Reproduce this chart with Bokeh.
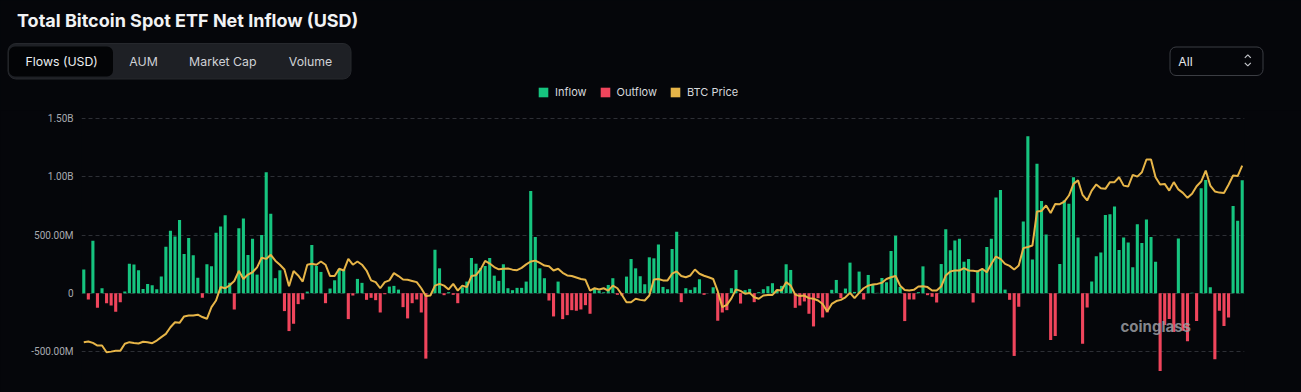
from bokeh.plotting import figure
from bokeh.models import Range1d, FixedTicker, Legend, LegendItem, ColumnDataSource, Label
from bokeh.layouts import column
from bokeh.embed import file_html
from bokeh.resources import INLINE
from bokeh.core.properties import value

# ---------------- data ----------------
# daily net flow, USD millions
flows_musd = [
    203, -54, 451, -126, 43, -86, -106, -160, -77, 14,
    254, 246, 197, 37, 80, 69, 34, 143, 400, 537,
    489, 631, 337, 474, 326, 134, -40, 249, 231, 520,
    574, 671, 89, -140, 560, 643, 329, 469, 160, 500,
    1040, 683,
    129, 197, -154, -326, -263, -94, -54, 14, 414, 234,
    183, -86, 40, 111, 209, 203, -223, -20, 123, 89,
    -57, -40, -60, -166, -9, 57, 63, 31, -120, -217,
    -86, -54, -166, -563, 0, 374, 214, -17, 9, -14,
    -86, 51, 100, 303, 254, 217, 234, 303,
    151, 106, 249, 43, 26, 46, 46, 100, 880, 483,
    214, 129, -63, -200, 100, -223, -189, -146, -151, -140,
    -103, -177, 43, 23, 8, 71, 129, -14, -20, 143,
    294, 214, 146, 77, 309, 300, 420, 54, 34, 380,
    529, -77, 43, 29, 51, 120,
    -14, 0, 51, -237, -166, -146, 43, 200, -89, 26,
    37, -77, 9, 34, 60, 86, 29, 63, 249, 200,
    -126, -106, -71, -177, -286, -43, -209, -166, 29, 114,
    -43, 40, 263, 11, 186, -54, 157, 71, 3, 131,
    94, 363, 494, 54, -240, -54,
    -54, 9, 231, -17, -31, -80, 251, 551, 369, 454,
    469, 271, 294, -80, 197, 203, 397, 469, 823, 889,
    31, -57, -540, -117, 617, 1351, 289, 1114, 794, 506,
    -403, -369, 251, 800, 769, 997, 480, -434, -123,
    100, 317, 351, 674, 680, 746, 371, 480, 437, 223,
    594, 431, 634, 483, 271, -669, -274, -223, -334, 471,
    -323, -414, 3, -240, 903, 974, 51, -569, -151, -283,
    -209, 751, 623, 971,
]

# BTC price, USD
btc_price = [
    42950, 43200, 42700, 41800, 41800, 39500, 39700, 39970, 39970, 42400,
    42950, 42700, 42500, 43100, 42950, 42600, 43500, 44700, 45800, 48100,
    49800, 49600, 51800, 52100, 52100, 52400, 51600, 51000, 55000, 57300,
    61900, 61500, 62500, 64000, 67500, 64700, 66200, 67000, 68700, 72000,
    71600, 73000,
    71000, 69600, 67950, 62200, 67400, 65900, 63800, 69600, 69900, 69600,
    70700, 69600, 65700, 65700, 68200, 67600, 71600, 69600, 70700, 69600,
    67600, 64200, 63600, 61500, 63600, 64200, 66700, 65700, 64500, 64400,
    64000, 63600, 61500, 58800, 59000, 62400, 63000, 62400, 61100, 63000,
    60700, 62400, 61900, 65700, 66000, 68000, 70900, 70000,
    68800, 68000, 68200, 68300, 67900, 67700, 68500, 69700, 70700, 71000,
    70200, 69300, 69100, 67600, 68200, 66800, 65900, 65700, 65200, 64700,
    64400, 60700, 61500, 61100, 61500, 60700, 62400, 61500, 59200, 56700,
    56700, 57900, 57500, 57300, 59000, 64500, 64700, 64200, 64200, 66500,
    67300, 65700, 65300, 65900, 67950, 66500,
    65800, 65300, 64700, 60500, 55000, 55800, 58000, 61100, 60600, 59600,
    59900, 58400, 57900, 59000, 59200, 59200, 60900, 60700, 63600, 62400,
    59300, 58800, 59000, 58100, 57900, 57300, 56100, 53500, 56100, 57100,
    57500, 58400, 59900, 58100, 59900, 61500, 62400, 62800, 63000, 63400,
    64700, 65300, 65700, 62400, 60900, 60700,
    60950, 62100, 62200, 61900, 60700, 60700, 62100, 65900, 67300, 67600,
    67600, 68400, 67600, 67500, 67300, 68200, 67000, 69900, 72400, 71600,
    69900, 69200, 67950, 69300, 75300, 75700, 76200, 87900, 88100, 90000,
    87400, 90500, 90400, 91300, 93400, 97400, 98600, 93600, 91700,
    95100, 97200, 95900, 95700, 98000, 98000, 99700, 96800, 96500, 100500,
    99900, 101400, 105800, 105800, 99700, 97200, 97400, 95100, 98000, 95500,
    94300, 92600, 94000, 96600, 98200, 102000, 96800, 94800, 94400, 94300,
    97100, 100300, 100100, 103700,
]

y_ticks = [-500e6, 0, 500e6, 1e9, 1.5e9]
y_tick_labels = ["-500.00M", "0", "500.00M", "1.00B", "1.50B"]
tab_labels = ["Flows (USD)", "AUM", "Market Cap", "Volume"]
legend_labels = ["Inflow", "Outflow", "BTC Price"]
title_text = "Total Bitcoin Spot ETF Net Inflow (USD)"
range_label = "All"

# ---------------- styling ----------------
BG = "#05060a"
GREEN = "#16c47f"
RED = "#f0455c"
GOLD = "#e7b548"
W = 1301
FONT = "Inter"
NAN = float("nan")

days = list(range(1, len(flows_musd) + 1))
flow_usd = [v * 1e6 for v in flows_musd]
inflow = ColumnDataSource(dict(x=[d for d, v in zip(days, flow_usd) if v >= 0],
                               top=[v for v in flow_usd if v >= 0]))
outflow = ColumnDataSource(dict(x=[d for d, v in zip(days, flow_usd) if v < 0],
                                top=[v for v in flow_usd if v < 0]))

# ---------------- header (title, tabs, selector, legend) ----------------
HH = 110
hdr = figure(width=W, height=HH, x_range=Range1d(0, W), y_range=Range1d(HH, 0),
             output_backend="svg", toolbar_location=None, min_border=0,
             x_axis_type=None, y_axis_type=None)
hdr.outline_line_color = None
hdr.background_fill_color = BG
hdr.border_fill_color = BG
hdr.grid.visible = False

hdr.text(x=[16.5], y=[19.5], text=[title_text], text_font=value(FONT), text_font_style="bold",
         text_font_size="18px", text_color="#f1f2f4", text_baseline="middle", text_align="left")

hdr.quad(left=[7.5], right=[350.5], top=[43], bottom=[78.5], fill_color="#1e2025",
         line_color="#26282d", border_radius=8)
hdr.quad(left=[8.5], right=[112.5], top=[46], bottom=[76], fill_color="#030406",
         line_color=None, border_radius=6)
tab_x = [61.2, 143, 222.3, 310]
hdr.text(x=tab_x, y=[61] * 4, text=tab_labels, text_font=value(FONT), text_font_size="12.3px",
         text_color=["#eceef1", "#cfd1d6", "#cfd1d6", "#cfd1d6"],
         text_baseline="middle", text_align="center")

hdr.quad(left=[1169.5], right=[1262.5], top=[46.5], bottom=[75], fill_color=BG,
         line_color="#3b3d43", line_width=1, border_radius=6)
hdr.text(x=[1177.7], y=[61], text=[range_label], text_font=value(FONT), text_font_size="12.3px",
         text_color="#e4e5e8", text_baseline="middle", text_align="left")
hdr.multi_line(xs=[[1244.3, 1247.3, 1250.3], [1244.3, 1247.3, 1250.3]],
               ys=[[57.3, 54.3, 57.3], [62.3, 65.3, 62.3]], line_color="#c4c6cb", line_width=1.2)

# legend keys (one undrawn NaN row each, so the legend has a swatch to paint)
key_in = hdr.vbar(x=[NAN], top=[NAN], bottom=[NAN], width=1, fill_color=GREEN, line_color=None)
key_out = hdr.vbar(x=[NAN], top=[NAN], bottom=[NAN], width=1, fill_color=RED, line_color=None)
key_price = hdr.vbar(x=[NAN], top=[NAN], bottom=[NAN], width=1, fill_color=GOLD, line_color=None)
legend = Legend(items=[LegendItem(label=legend_labels[0], renderers=[key_in], index=0),
                       LegendItem(label=legend_labels[1], renderers=[key_out], index=0),
                       LegendItem(label=legend_labels[2], renderers=[key_price], index=0)],
                orientation="horizontal", location=(537, 11), padding=0, margin=0,
                spacing=12, label_standoff=6, glyph_width=12, glyph_height=12,
                label_height=12, label_text_font=FONT, label_text_font_size="11px",
                label_text_color="#d6d8dc", background_fill_alpha=0, border_line_color=None,
                label_text_baseline="middle")
hdr.add_layout(legend, "center")

# ---------------- chart ----------------
CH = 392 - HH
p = figure(width=W, height=CH, x_range=Range1d(0.5, len(days) + 0.5),
           y_range=Range1d(-0.8546e9, 1.5723e9), output_backend="svg", toolbar_location=None,
           min_border_left=81, min_border_right=57, min_border_top=0, min_border_bottom=0,
           x_axis_type=None)
p.outline_line_color = None
p.background_fill_color = BG
p.border_fill_color = BG
p.extra_y_ranges = {"price": Range1d(25637, 122645)}

p.yaxis.ticker = FixedTicker(ticks=y_ticks)
p.yaxis.major_label_overrides = dict(zip(y_ticks, y_tick_labels))
p.yaxis.axis_line_color = None
p.yaxis.major_tick_line_color = None
p.yaxis.minor_tick_line_color = None
p.yaxis.major_tick_out = 0
p.yaxis.major_label_standoff = 8
p.yaxis.major_label_text_font = "Roboto"
p.yaxis.major_label_text_font_size = "10px"
p.yaxis.major_label_text_color = "#a8aab0"
p.ygrid.ticker = FixedTicker(ticks=y_ticks)
p.ygrid.grid_line_color = "#2d2f35"
p.ygrid.grid_line_dash = "4 3"
p.ygrid.grid_line_width = 1

p.vbar(x="x", top="top", bottom=0, width=0.68, source=inflow, fill_color=GREEN, line_color=None)
p.vbar(x="x", top="top", bottom=0, width=0.68, source=outflow, fill_color=RED, line_color=None)
p.line(x=days, y=btc_price, y_range_name="price", line_color=GOLD, line_width=2)

p.add_layout(Label(x=1039, y=66, x_units="screen", y_units="screen", text="coinglass",
                   text_font=FONT, text_font_style="bold", text_font_size="15px",
                   text_color="#9c9ea3", text_alpha=0.85, text_baseline="middle"))

for fig in (hdr, p):
    try:
        fig.frame_align = False
    except Exception:
        pass

layout = column(hdr, p, spacing=0)
html = file_html(layout, INLINE)
html = html.replace("<head>", "<head><style>html,body{background:#05060a;}</style>", 1)
open("out.html", "w").write(html)
